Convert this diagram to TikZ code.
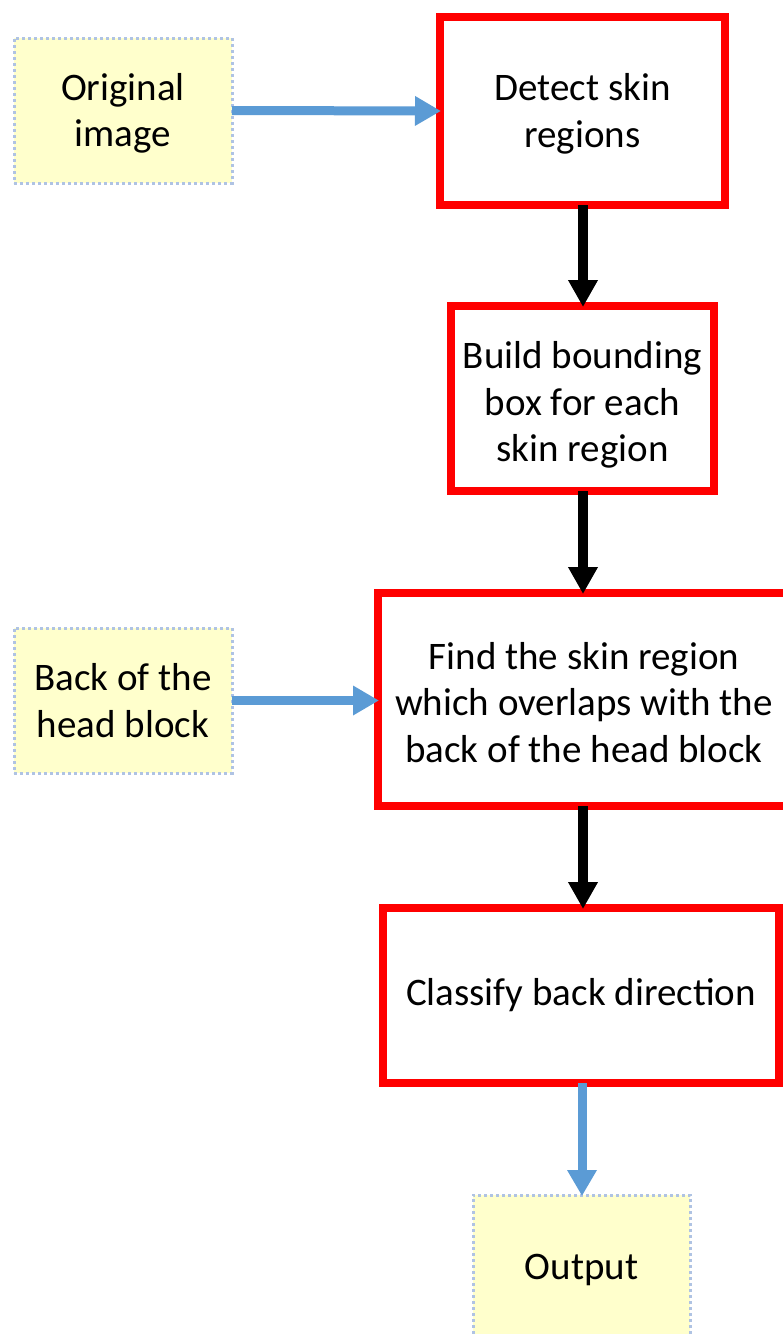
\documentclass[tikz,border=0pt]{standalone}
\usepackage{fontspec}
\setmainfont{Carlito}
\usetikzlibrary{arrows.meta}
\definecolor{boxred}{HTML}{FF0000}
\definecolor{arrowblue}{HTML}{5B9BD5}
\definecolor{inyellow}{HTML}{FFFFCC}
\definecolor{dotblue}{HTML}{AFC3E3}
\tikzset{
  x=1pt, y=-1pt,
  every node/.style={font=\fontsize{39}{46.5}\selectfont, align=center, inner sep=0pt, outer sep=0pt},
  redbox/.style={draw=boxred, line width=8pt, fill=white, rectangle},
  iobox/.style={draw=dotblue, line width=3pt, dash pattern=on 3pt off 3pt, fill=inyellow, rectangle},
  bluearrow/.style={draw=arrowblue, line width=9pt, -{Triangle[length=26pt,width=28pt]}, shorten >=-1pt},
  blackarrow/.style={draw=black, line width=10pt, -{Triangle[length=27pt,width=28pt]}, shorten >=-1pt},
}
\begin{document}
\begin{tikzpicture}
\useasboundingbox (0,0) rectangle (783,1334);
\fill[white] (0,0) rectangle (783,1334);
% input / output boxes
\node[iobox, minimum width=218pt, minimum height=145pt] (orig) at (123,110.5) {\\[-14pt]Original\\image};
\node[iobox, minimum width=218pt, minimum height=145pt] (back) at (123,700.5) {Back of the\\head block};
\node[iobox, minimum width=217pt, minimum height=150pt] (out) at (581.5,1270) {Output};
% process boxes
\node[redbox, minimum width=285pt, minimum height=188pt] (detect) at (582.5,111) {\\[-14pt]Detect skin\\regions};
\node[redbox, minimum width=263pt, minimum height=185pt] (build) at (582.5,398.5) {\\[-6pt]Build bounding\\box for each\\skin region};
\node[redbox, minimum width=412pt, minimum height=213pt] (find) at (584,699.5) {\\[-14pt]Find the skin region\\which overlaps with the\\back of the head block};
\node[redbox, minimum width=396pt, minimum height=175pt] (classify) at (581,995.5) {Classify back direction};
% connectors
\draw[bluearrow] (orig.east) -- (detect.west);
\draw[bluearrow] (back.east) -- (back.east -| find.west);
\draw[blackarrow] (detect.south -| 583,0) -- (build.north -| 583,0);
\draw[blackarrow] (build.south -| 583,0) -- (find.north -| 583,0);
\draw[blackarrow] (find.south -| 583,0) -- (classify.north -| 583,0);
\draw[bluearrow] (classify.south -| 582,0) -- (out.north -| 582,0);
\end{tikzpicture}
\end{document}
